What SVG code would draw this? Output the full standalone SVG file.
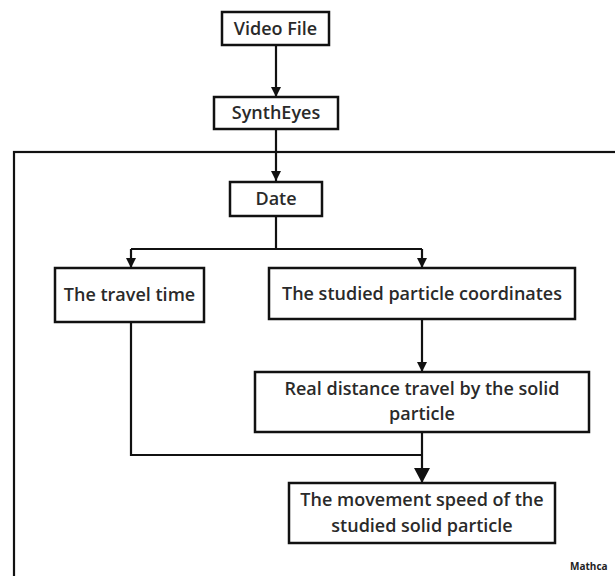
<svg xmlns="http://www.w3.org/2000/svg" width="615" height="576" viewBox="0 0 615 576">
<style>
.box{fill:#fff;stroke:#111;stroke-width:2.5}
.t{font-family:"Open Sans","Noto Sans",sans-serif;font-weight:600;font-size:18px;fill:#2a2a2a;text-anchor:middle}
.c{fill:none;stroke:#111;stroke-width:2.2}
</style>
<defs>
<marker id="ah" markerUnits="userSpaceOnUse" markerWidth="12" markerHeight="10" refX="10" refY="5" orient="auto">
<path d="M0,0 L10,5 L0,10 Z" fill="#111"/>
</marker>
<marker id="ahb" markerUnits="userSpaceOnUse" markerWidth="16" markerHeight="16" refX="15" refY="8" orient="auto">
<path d="M0,0 L15,8 L0,16 Z" fill="#111"/>
</marker>
</defs>
<rect x="0" y="0" width="615" height="576" fill="#fff"/>
<rect id="frame" x="14" y="152" width="640" height="460" fill="none" stroke="#111" stroke-width="2.2"/>
<g id="connectors">
<path class="c" d="M276,45 V97" marker-end="url(#ah)"/>
<path class="c" d="M276,129 V181" marker-end="url(#ah)"/>
<path class="c" d="M276,216 V249"/>
<path class="c" d="M131,249 H422"/>
<path class="c" d="M131,249 V268" marker-end="url(#ah)"/>
<path class="c" d="M422,249 V268" marker-end="url(#ah)"/>
<path class="c" d="M422,319 V372" marker-end="url(#ah)"/>
<path class="c" d="M131,322 V455 H422"/>
<path class="c" d="M422,432 V483" marker-end="url(#ahb)"/>
</g>
<g id="video-file"><rect class="box" x="222" y="12" width="107" height="33"/><text class="t" x="275.5" y="35">Video File</text></g>
<g id="syntheyes"><rect class="box" x="214" y="97" width="124" height="32"/><text class="t" x="276" y="119">SynthEyes</text></g>
<g id="date"><rect class="box" x="230" y="182" width="92" height="34"/><text class="t" x="276" y="205">Date</text></g>
<g id="travel-time"><rect class="box" x="55" y="268" width="149" height="54"/><text class="t" x="129.5" y="301">The travel time</text></g>
<g id="coordinates"><rect class="box" x="269" y="268" width="306" height="51"/><text class="t" x="422" y="300">The studied particle coordinates</text></g>
<g id="real-distance"><rect class="box" x="255" y="372" width="334" height="60"/><text class="t" x="422" y="395">Real distance travel by the solid</text><text class="t" x="422" y="420">particle</text></g>
<g id="speed"><rect class="box" x="289" y="483" width="266" height="60"/><text class="t" x="422" y="506">The movement speed of the</text><text class="t" x="422" y="532">studied solid particle</text></g>
<text x="570" y="570" font-family="Open Sans,sans-serif" font-weight="bold" font-size="10" fill="#222">Mathca</text>
</svg>
